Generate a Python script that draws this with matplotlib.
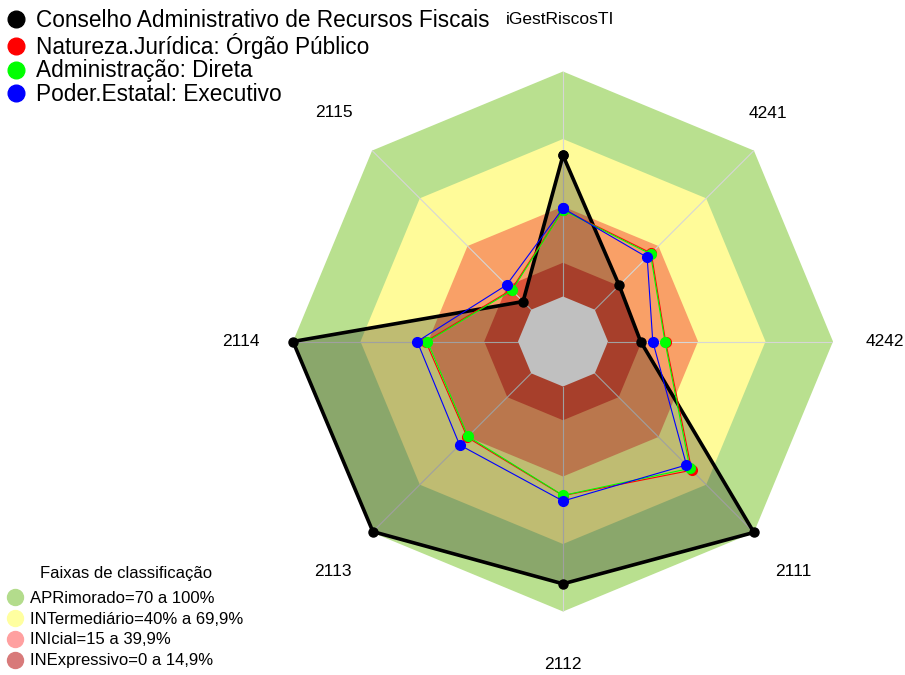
import numpy as np
import matplotlib.pyplot as plt
from matplotlib.lines import Line2D

# eixos do radar, em sentido horário a partir do topo
eixos = ["iGestRiscosTI", "4241", "4242", "2111", "2112", "2113", "2114", "2115"]

# valores (%) por série
carf = [62.7, 15.3, 14.5, 100.0, 87.7, 99.5, 100.0, 5.1]
orgao_publico = [38.6, 35.5, 25.6, 60.9, 48.5, 40.2, 41.0, 12.5]
adm_direta = [38.4, 35.0, 25.3, 59.8, 48.4, 39.7, 40.3, 12.1]
executivo = [39.2, 32.9, 19.9, 57.6, 50.9, 45.0, 44.8, 15.5]

series_nomes = ["Conselho Administrativo de Recursos Fiscais",
                "Natureza.Jurídica: Órgão Público",
                "Administração: Direta",
                "Poder.Estatal: Executivo"]
series_cores = ["#000000", "#ff0000", "#00ff00", "#0000ff"]

# faixas de classificação (limite superior de cada faixa)
faixas_lim = [100, 70, 40, 15]
faixas_cor = ["#b9e08f", "#fffb99", "#f9a067", "#e0553a"]
faixas_nomes = ["APRimorado=70 a 100%", "INTermediário=40% a 69,9%",
                "INIcial=15 a 39,9%", "INExpressivo=0 a 14,9%"]
faixas_cor_leg = ["#b3dc8c", "#ffffa0", "#ffa0a0", "#d87a7a"]

n = len(eixos)
theta = np.arange(n) * 2 * np.pi / n
theta_f = np.append(theta, theta[0])


def fechar(v):
    return np.append(v, v[0])


fig = plt.figure(figsize=(9.05, 6.75), dpi=100)
plt.rcParams['font.family'] = ['Liberation Sans', 'DejaVu Sans']
ax = fig.add_axes([293 / 905, 63.5 / 675, 540 / 905, 540 / 675], projection='polar')
ax.set_theta_offset(np.pi / 2)
ax.set_theta_direction(-1)
ax.set_ylim(-20, 100)
ax.grid(False)
ax.set_xticks([])
ax.set_yticks([])
ax.spines['polar'].set_visible(False)
ax.patch.set_alpha(0)

# faixas
for lim, cor in zip(faixas_lim, faixas_cor):
    ax.fill(theta_f, [lim] * (n + 1), color=cor, lw=0, zorder=1, clip_on=False)

# raios
for t in theta:
    ax.plot([t, t], [0, 100], color="#d6d6d6", lw=0.8, zorder=2)

# área da série principal
ax.fill(theta_f, fechar(carf), color="black", alpha=0.25, lw=0, zorder=3, clip_on=False)

# miolo cinza
ax.fill(theta_f, [0] * (n + 1), color="#c0c0c0", lw=0, zorder=4)

# séries
ax.plot(theta_f, fechar(carf), color="black", lw=2.6, marker="o", ms=6.5,
        solid_joinstyle="round", zorder=5, clip_on=False)
for vals, cor in zip([orgao_publico, adm_direta, executivo], series_cores[1:]):
    ax.plot(theta_f, fechar(vals), color=cor, lw=0.8, marker="o", ms=7, zorder=6,
            clip_on=False)

# rótulos dos eixos
rot_ang = [-0.5, 42.0, 90.0, 135.0, 180.0, 225.0, 270.0, 315.0]
rot_r = [123.0, 116.4, 123.0, 124.5, 123.6, 124.5, 123.0, 124.2]
for nome, a, r in zip(eixos, rot_ang, rot_r):
    ax.text(np.deg2rad(a), r, nome, ha="center", va="center", fontsize=12.5,
            clip_on=False)

# legenda das séries
h_series = [Line2D([], [], ls="", marker="o", ms=12, color=c) for c in series_cores]
leg1 = fig.legend(h_series, series_nomes, loc="upper left",
                  bbox_to_anchor=(1 / 905, 1.0 - 3 / 675), frameon=False, fontsize=16.3,
                  handlelength=0.8, handletextpad=0.5, labelspacing=0.04,
                  borderaxespad=0.0, borderpad=0.25)

# legenda das faixas
h_faixas = [Line2D([], [], ls="", marker="o", ms=11.5, color=c) for c in faixas_cor_leg]
leg2 = fig.legend(h_faixas, faixas_nomes, loc="lower left",
                  bbox_to_anchor=(2 / 905, 0.0), frameon=False, fontsize=12,
                  title="Faixas de classificação", title_fontsize=12,
                  handlelength=0.8, handletextpad=0.45, labelspacing=0.35,
                  borderaxespad=0.0, borderpad=0.4)
leg2._legend_box.sep = 7

fig.savefig("out.png", dpi=100)
